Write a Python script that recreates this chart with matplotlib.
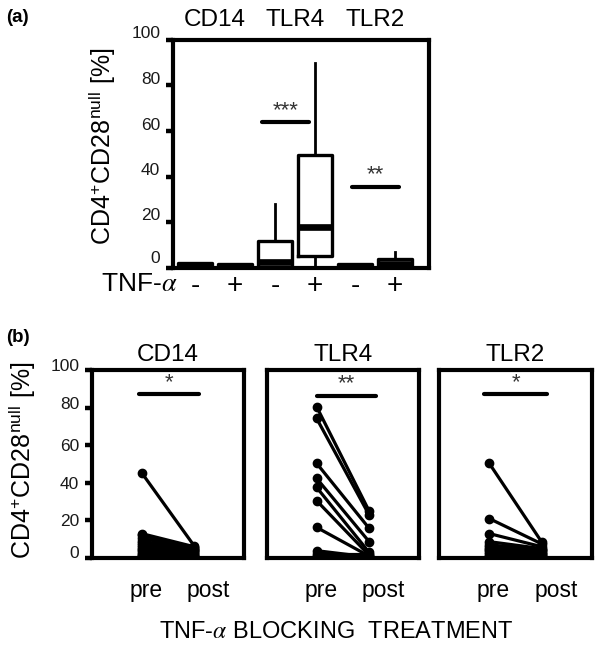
import matplotlib
matplotlib.use('Agg')
import matplotlib.pyplot as plt
from matplotlib.transforms import ScaledTranslation, blended_transform_factory

plt.rcParams['font.family'] = ['Liberation Sans', 'DejaVu Sans']
plt.rcParams['mathtext.fontset'] = 'stix'

# ---------------- data: panel (a) ----------------
a_groups = ['CD14', 'TLR4', 'TLR2']
a_treat = ['-', '+', '-', '+', '-', '+']
a_whislo = [0, 0, 0, 0, 0, 0]
a_q1 = [0, 0, 0, 5.3, 0, 0]
a_med = [1.0, 0.8, 2.8, 18.0, 0.8, 1.8]
a_q3 = [2.2, 1.8, 11.8, 49.6, 1.8, 3.8]
a_whishi = [2.2, 1.8, 28.0, 89.5, 1.8, 7.0]
a_sig_labels = ['***', '**']
a_sig_x1 = [2.67, 4.92]
a_sig_x2 = [3.86, 6.10]
a_sig_y = [63.8, 35.6]

# ---------------- data: panel (b) ----------------
b_groups = ['CD14', 'TLR4', 'TLR2']
b_times = ['pre', 'post']
cd14_pre = [45.4, 13.0, 12.0, 10.5, 9.0, 8.0, 7.0, 6.0, 5.0, 4.0, 3.0, 2.0, 1.5, 1.0, 0.5]
cd14_post = [6.5, 6.0, 5.5, 5.0, 4.5, 4.0, 3.5, 3.0, 2.5, 2.0, 1.5, 1.0, 0.8, 0.5, 0.3]
tlr4_pre = [80.5, 74.3, 50.4, 42.4, 37.6, 30.5, 16.3, 3.9, 2.0, 1.0]
tlr4_post = [25.0, 22.9, 15.8, 8.7, 3.0, 1.5, 1.0, 0.5, 2.0, 0.3]
tlr2_pre = [50.4, 21.0, 13.0, 8.7, 7.0, 6.0, 5.0, 4.0, 3.0, 2.0, 1.0, 0.5]
tlr2_post = [8.5, 7.5, 6.0, 5.0, 4.5, 4.0, 3.0, 2.5, 2.0, 1.5, 1.0, 0.5]
b_sig_labels = ['*', '**', '*']
b_sig_x1 = [0.955, 1.00, 0.906]
b_sig_x2 = [2.09, 2.14, 2.11]
b_sig_y = [87.0, 86.4, 87.0]

yticks = [0, 20, 40, 60, 80, 100]

W, H = 600, 654
fig = plt.figure(figsize=(W / 100, H / 100), dpi=100)


def fx(px):
    return px / W


def fy(py):
    return 1 - py / H


def style_axes(ax, lw=3):
    for s in ax.spines.values():
        s.set_linewidth(lw)
        s.set_color('black')


def offset_ticklabels(ax, offsets_px):
    for lab, off in zip(ax.get_yticklabels(), offsets_px):
        lab.set_transform(lab.get_transform() +
                          ScaledTranslation(0, off / 100, fig.dpi_scale_trans))


ylabel_txt = r'CD4$^{\mathregular{+}}$CD28$^{\mathregular{null}}$ [%]'

# ---------------- panel (a) ----------------
axa = fig.add_axes([fx(172.7), fy(268), fx(429 - 172.7), (268 - 39.5) / H])
style_axes(axa)
positions = list(range(1, len(a_treat) + 1))
stats = []
for i in range(len(a_treat)):
    stats.append(dict(whislo=a_whislo[i], q1=a_q1[i], med=a_med[i],
                      q3=a_q3[i], whishi=a_whishi[i], fliers=[]))
axa.bxp(stats, positions=positions, widths=0.86, showcaps=False,
        showfliers=False, patch_artist=False,
        boxprops=dict(linewidth=2.4, color='black'),
        medianprops=dict(linewidth=4.8, color='black', solid_capstyle='butt'),
        whiskerprops=dict(linewidth=2.0, color='black'))
axa.set_xlim(0.44, 6.85)
axa.set_ylim(0, 100)
axa.set_xticks([])
axa.set_yticks(yticks)
axa.set_yticklabels([str(t) for t in yticks], fontsize=12.5, color='#1a1a1a')
axa.tick_params(axis='y', direction='out', length=5, width=3.2, pad=4)
offset_ticklabels(axa, [11, 8, 8, 7, 7, 7])

trans_a = blended_transform_factory(axa.transData, axa.transAxes)
for gi, g in enumerate(a_groups):
    axa.text(2 * gi + 1.5, 1 + 19.5 / 228.5, g, transform=trans_a,
             ha='center', va='center', fontsize=17.5)
for p, t in zip(positions, a_treat):
    axa.text(p, -18 / 228.5, t, transform=trans_a, ha='center', va='center',
             fontsize=20)
fig.text(fx(178), fy(284), r'TNF-$\alpha$', ha='right', va='center', fontsize=19)
for lab, x1, x2, y in zip(a_sig_labels, a_sig_x1, a_sig_x2, a_sig_y):
    axa.plot([x1, x2], [y, y], color='black', lw=3, solid_capstyle='round')
    axa.text((x1 + x2) / 2, y + 0.5, lab, ha='center', va='bottom',
             fontsize=16, color='#333333')
fig.text(fx(102), fy(146), ylabel_txt, rotation=90, ha='center', va='center',
         fontsize=18)
fig.text(fx(6), fy(17), '(a)', fontweight='bold', fontsize=13.5, ha='left',
         va='center')

# ---------------- panel (b) ----------------
b_pre = [cd14_pre, tlr4_pre, tlr2_pre]
b_post = [cd14_post, tlr4_post, tlr2_post]
b_lefts = [91.7, 266.7, 439.3]
b_width = 152.3
for gi, g in enumerate(b_groups):
    ax = fig.add_axes([fx(b_lefts[gi]), fy(558), fx(b_width), (558 - 370) / H])
    style_axes(ax)
    for pre, post in zip(b_pre[gi], b_post[gi]):
        ax.plot([1, 2], [pre, post], color='black', lw=2.3, marker='o',
                markersize=6, solid_capstyle='round')
    ax.set_xlim(0.05, 2.95)
    ax.set_ylim(0, 100)
    ax.set_xticks([])
    tr = blended_transform_factory(ax.transData, ax.transAxes)
    ax.text(1.5, 1 + 15 / 188, g, transform=tr, ha='center', va='center',
            fontsize=17.5)
    ax.text(1.08, -32 / 188, b_times[0], transform=tr, ha='center',
            va='center', fontsize=16.5)
    ax.text(2.27, -32 / 188, b_times[1], transform=tr, ha='center',
            va='center', fontsize=16.5)
    x1, x2, y = b_sig_x1[gi], b_sig_x2[gi], b_sig_y[gi]
    ax.plot([x1, x2], [y, y], color='black', lw=3, solid_capstyle='round')
    ax.text((x1 + x2) / 2, y + 0.5, b_sig_labels[gi], ha='center',
            va='bottom', fontsize=16, color='#333333')
    if gi == 0:
        ax.set_yticks(yticks)
        ax.set_yticklabels([str(t) for t in yticks], fontsize=12.5,
                           color='#1a1a1a')
        ax.tick_params(axis='y', direction='out', length=5, width=3.2, pad=4)
        offset_ticklabels(ax, [6, 0, 0, 0, 5, 5])
    else:
        ax.set_yticks([])

fig.text(fx(22), fy(460), ylabel_txt, rotation=90, ha='center', va='center',
         fontsize=18)
fig.text(fx(6), fy(337), '(b)', fontweight='bold', fontsize=13.5, ha='left',
         va='center')
fig.text(fx(336), fy(631.7), r'TNF-$\alpha$ BLOCKING  TREATMENT', ha='center',
         va='center', fontsize=17)

fig.savefig('out.png', dpi=100)
